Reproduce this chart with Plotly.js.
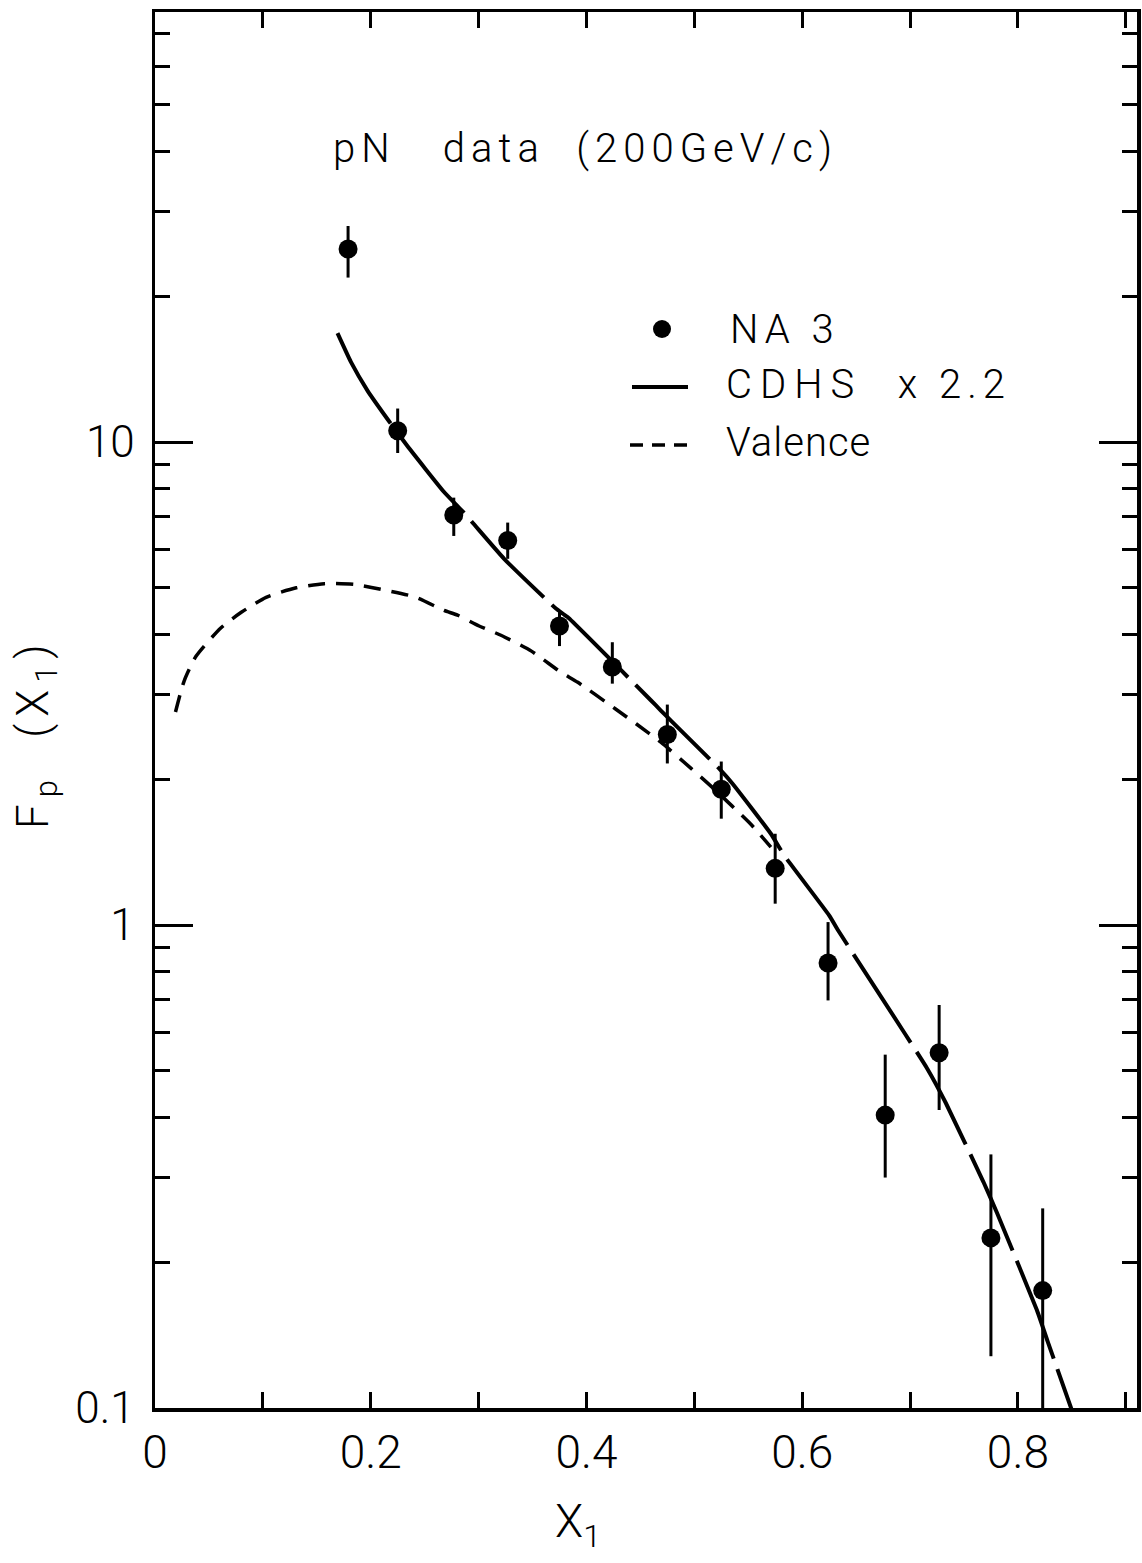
<!DOCTYPE html>
<html>
<head>
<meta charset="utf-8">
<script src="https://cdn.plot.ly/plotly-3.0.1.min.js"></script>
<style>
  html, body { margin: 0; padding: 0; background: #ffffff; }
  #chart { width: 1142px; height: 1563px; }
</style>
</head>
<body>
<div id="chart"></div>
<script>
// NA3 measurements: F_p(x1) from pN collisions at 200 GeV/c
const xBins      = [0.179, 0.225, 0.277, 0.327, 0.375, 0.424, 0.475, 0.525, 0.575, 0.624, 0.677, 0.727, 0.775, 0.823];
const fpValues   = [25.1, 10.55, 7.06, 6.25, 4.16, 3.42, 2.48, 1.91, 1.31, 0.834, 0.404, 0.544, 0.225, 0.175];
const fpErrHigh  = [28.0, 11.73, 7.67, 6.81, 4.49, 3.85, 2.86, 2.18, 1.545, 1.014, 0.539, 0.683, 0.335, 0.259];
const fpErrLow   = [21.9, 9.49, 6.39, 5.73, 3.78, 3.16, 2.16, 1.66, 1.107, 0.698, 0.300, 0.414, 0.128, 0.100];

// CDHS structure function scaled by 2.2
const cdhsX = [0.1692, 0.1816, 0.197, 0.217, 0.234, 0.268, 0.2866, 0.3237, 0.3717, 0.3825, 0.4597, 0.469, 0.4783, 0.5231, 0.5355, 0.571, 0.5833, 0.625, 0.6343, 0.675, 0.716, 0.7332, 0.768, 0.7805, 0.8176, 0.8275, 0.8507];
const cdhsY = [16.8, 14.65, 12.78, 11.04, 9.81, 7.88, 7.13, 5.73, 4.52, 4.34, 2.92, 2.78, 2.65, 2.107, 1.961, 1.545, 1.394, 1.047, 0.967, 0.700, 0.504, 0.428, 0.294, 0.254, 0.1595, 0.1376, 0.098];

// Valence contribution
const valX = [0.019, 0.027, 0.038, 0.061, 0.080, 0.103, 0.131, 0.157, 0.185, 0.216, 0.242, 0.268, 0.2805, 0.3005, 0.3207, 0.349, 0.376, 0.392, 0.427, 0.446, 0.469, 0.497, 0.518, 0.552, 0.571];
const valY = [2.76, 3.20, 3.60, 4.12, 4.44, 4.77, 4.99, 5.09, 5.07, 4.92, 4.77, 4.48, 4.38, 4.16, 3.98, 3.69, 3.34, 3.18, 2.80, 2.61, 2.39, 2.11, 1.915, 1.62, 1.45];

// Axis ticks
const xTickVals  = [0, 0.2, 0.4, 0.6, 0.8];
const xTickText  = ['0', '0.2', '0.4', '0.6', '0.8'];
const yMajorVals = [0.1, 1, 10];
const yMajorText = ['0.1', '1', '10'];
const yMinorVals = [0.2, 0.3, 0.4, 0.5, 0.6, 0.7, 0.8, 0.9, 2, 3, 4, 5, 6, 7, 8, 9, 20, 30, 40, 50, 60, 70];

// Frame geometry in page pixels
const L = 155, R = 1137, T = 12, B = 1408;
const W = R - L, H = B - T;
const px = v => (v - L) / W;
const py = v => (B - v) / H;

const FONT = 'Roboto, "Open Sans", "DejaVu Sans", sans-serif';
const ink = '#000000';
const sp = (s, n) => '<span style="letter-spacing:' + n + 'px">' + s + '</span>';

const traces = [
  {
    x: cdhsX, y: cdhsY, type: 'scatter', mode: 'lines',
    line: { color: ink, width: 4, dash: '105px,11px', shape: 'spline', smoothing: 0.4 },
    hoverinfo: 'skip', showlegend: false
  },
  {
    x: valX, y: valY, type: 'scatter', mode: 'lines',
    line: { color: ink, width: 3.5, dash: '17px,11px', shape: 'spline', smoothing: 0.6 },
    hoverinfo: 'skip', showlegend: false
  },
  {
    x: xBins, y: fpValues, type: 'scatter', mode: 'markers',
    marker: { color: ink, size: 19, symbol: 'circle' },
    error_y: {
      type: 'data', symmetric: false,
      array: fpErrHigh.map((h, i) => h - fpValues[i]),
      arrayminus: fpErrLow.map((l, i) => fpValues[i] - l),
      color: ink, thickness: 3, width: 0
    },
    showlegend: false
  }
];

const layout = {
  width: 1142, height: 1563,
  paper_bgcolor: '#ffffff', plot_bgcolor: '#ffffff',
  margin: { l: L, r: 1142 - R, t: T, b: 1563 - B },
  showlegend: false,
  font: { family: FONT, color: ink, size: 40, weight: 300 },
  title: {
    text: sp('pN&nbsp;&nbsp;&nbsp;data&nbsp;&nbsp;(200GeV/c)', 6),
    xref: 'container', yref: 'container',
    x: 333 / 1142, xanchor: 'left',
    y: 1 - 148 / 1563, yanchor: 'middle',
    font: { family: FONT, size: 40, color: ink, weight: 300 }
  },
  xaxis: {
    range: [0, W / 1078.6],
    tickmode: 'array', tickvals: xTickVals, ticktext: xTickText,
    ticks: 'inside', ticklen: 16, tickwidth: 3, tickcolor: ink,
    minor: { dtick: 0.1, tick0: 0, ticks: 'inside', ticklen: 16, tickwidth: 3, tickcolor: ink, showgrid: false },
    showline: true, linewidth: 3.5, linecolor: ink, mirror: 'allticks',
    showgrid: false, zeroline: false,
    tickfont: { family: FONT, size: 46, color: ink, weight: 300 },
    ticklabelstandoff: 1
  },
  yaxis: {
    type: 'log', range: [-1, -1 + H / 483],
    tickmode: 'array', tickvals: yMajorVals, ticktext: yMajorText,
    ticks: 'inside', ticklen: 38, tickwidth: 3, tickcolor: ink,
    minor: { tickmode: 'array', tickvals: yMinorVals, ticks: 'inside', ticklen: 15, tickwidth: 3, tickcolor: ink, showgrid: false },
    showline: true, linewidth: 3.5, linecolor: ink, mirror: 'allticks',
    showgrid: false, zeroline: false,
    tickfont: { family: FONT, size: 44, color: ink, weight: 300 },
    ticklabelstandoff: 8
  },
  annotations: [
    // axis titles
    {
      text: sp('F<sub>p</sub>&nbsp;&nbsp;(X<sub>1</sub>)', 7),
      xref: 'paper', yref: 'paper', x: px(36), y: py(733),
      xanchor: 'center', yanchor: 'middle', textangle: -90, showarrow: false,
      font: { family: FONT, size: 44, color: ink, weight: 300 }
    },
    {
      text: 'X<sub>1</sub>',
      xref: 'paper', yref: 'paper', x: px(578), y: py(1524),
      xanchor: 'center', yanchor: 'middle', showarrow: false,
      font: { family: FONT, size: 46, color: ink, weight: 300 }
    },
    // key labels
    {
      text: sp('NA&nbsp;3', 6),
      xref: 'paper', yref: 'paper', x: px(728), y: py(329),
      xanchor: 'left', yanchor: 'middle', showarrow: false,
      font: { family: FONT, size: 40, color: ink, weight: 300 }
    },
    {
      text: sp('CDHS&nbsp;&nbsp;', 8) + sp('x 2.2', 6),
      xref: 'paper', yref: 'paper', x: px(724), y: py(384),
      xanchor: 'left', yanchor: 'middle', showarrow: false,
      font: { family: FONT, size: 40, color: ink, weight: 300 }
    },
    {
      text: sp('Valence', 1),
      xref: 'paper', yref: 'paper', x: px(724), y: py(442),
      xanchor: 'left', yanchor: 'middle', showarrow: false,
      font: { family: FONT, size: 40, color: ink, weight: 300 }
    }
  ],
  shapes: [
    // key symbols
    {
      type: 'circle', xref: 'paper', yref: 'paper',
      xsizemode: 'pixel', ysizemode: 'pixel',
      xanchor: px(662), yanchor: py(329),
      x0: -9, x1: 9, y0: -9, y1: 9,
      fillcolor: ink, line: { width: 0 }
    },
    {
      type: 'line', xref: 'paper', yref: 'paper',
      x0: px(632), x1: px(688), y0: py(387), y1: py(387),
      line: { color: ink, width: 4 }
    },
    {
      type: 'line', xref: 'paper', yref: 'paper',
      x0: px(630), x1: px(688), y0: py(445), y1: py(445),
      line: { color: ink, width: 3.5, dash: '13px,9px' }
    }
  ]
};

Plotly.newPlot('chart', traces, layout, { staticPlot: true, displayModeBar: false });
</script>
</body>
</html>
